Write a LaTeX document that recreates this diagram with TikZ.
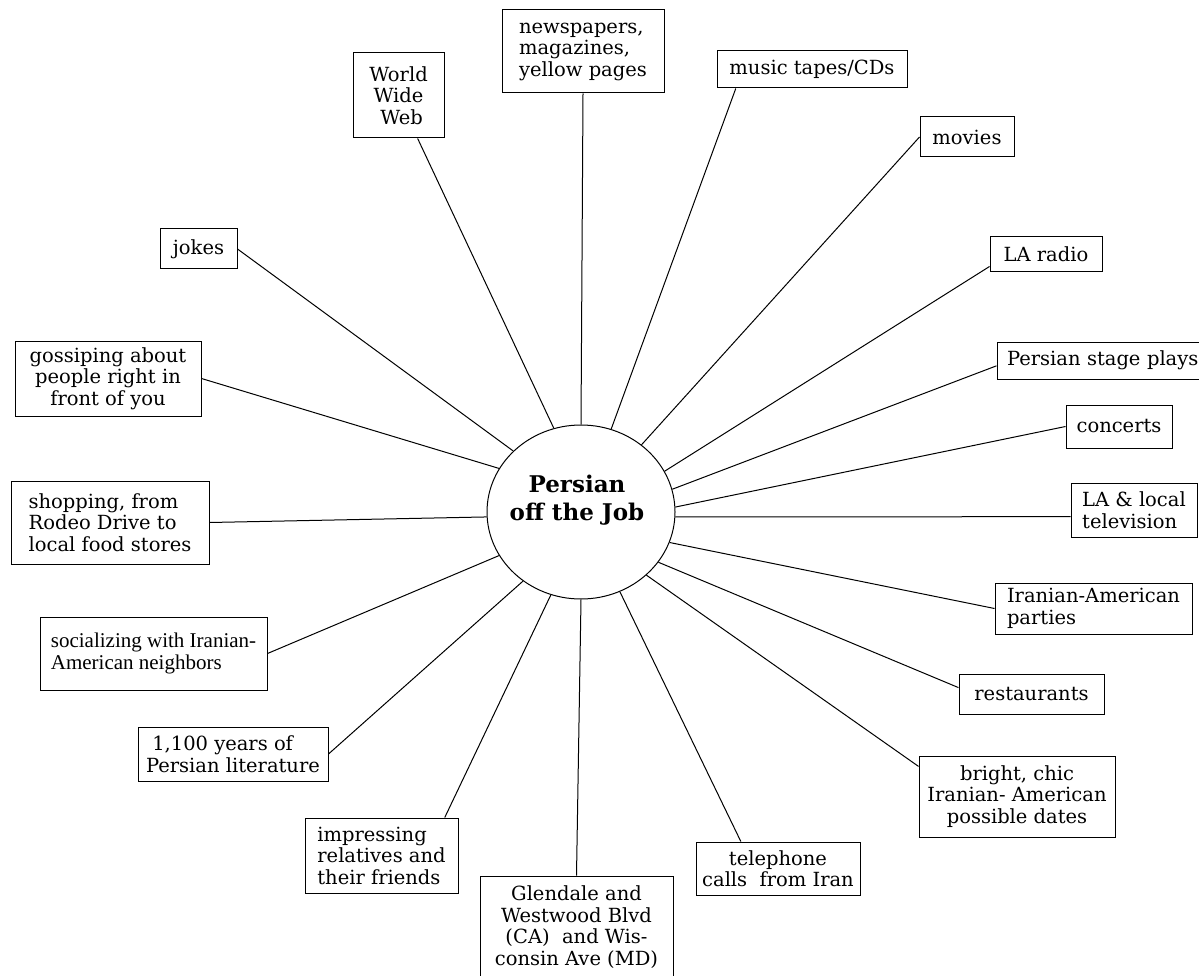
\documentclass[tikz,border=0pt]{standalone}
\usepackage{fontspec}
\setmainfont{DejaVu Serif}
\newfontfamily\timesf{Liberation Serif}
\usetikzlibrary{shapes.geometric}
\tikzset{
  box/.style={draw, line width=1pt, inner sep=0pt, font=\fontsize{19.5}{21.5}\selectfont},
  tbox/.style={draw, line width=1pt, inner sep=0pt, font=\timesf\fontsize{21}{22}\selectfont},
  conn/.style={line width=1pt},
}
\begin{document}
\begin{tikzpicture}[x=1pt,y=-1pt]
\useasboundingbox (0,0) rectangle (1199,976);
% centre
\node[ellipse, draw, line width=1pt, minimum width=188pt, minimum height=174pt, inner sep=0pt] (c) at (581,512) {};
\node[font=\bfseries\fontsize{23}{28}\selectfont, align=center] (title) at (577,500) {Persian\\off the Job};
% boxes
\node[box, align=left, minimum width=162pt, minimum height=83pt] (news) at (583,51.5) {newspapers,\\magazines,\\yellow pages};
\node[box, align=center, minimum width=91pt, minimum height=85pt] (www) at (398.5,95.5) {World\\Wide\\\ Web};
\node[box, minimum width=77pt, minimum height=40pt] (jokes) at (198.5,249) {jokes};
\node[box, minimum width=190pt, minimum height=37pt] (music) at (812,69.5) {music tapes/CDs};
\node[box, minimum width=94pt, minimum height=40pt] (movies) at (967,137) {movies};
\node[box, minimum width=112pt, minimum height=35pt] (radio) at (1046,254.5) {LA radio};
\node[box, align=center, minimum width=186pt, minimum height=75pt] (gossip) at (108,378.5) {gossiping about\\people right in\\front of you};
\node[box, align=left, minimum width=198pt, minimum height=83pt] (shop) at (110,522.5) {shopping, from\\Rodeo Drive to\\local food stores};
\node[tbox, align=left, minimum width=227pt, minimum height=73pt] (social) at (153.5,653.5) {socializing with Iranian-\\American neighbors};
\node[box, minimum width=202pt, minimum height=37pt, text width=194pt, align=left] (stage) at (1098,360.5) {\mbox{\hspace{6pt}Persian stage plays}};
\node[box, minimum width=106pt, minimum height=43pt] (concerts) at (1119,426.5) {concerts};
\node[box, align=left, minimum width=126pt, minimum height=54pt] (tv) at (1134,510) {LA \& local\\television};
\node[box, align=left, minimum width=197pt, minimum height=51pt] (parties) at (1093.5,608.5) {Iranian-American\\parties};
\node[box, minimum width=145pt, minimum height=40pt] (rest) at (1031.5,694) {restaurants};
\node[box, align=center, minimum width=196pt, minimum height=81pt] (bright) at (1017,796.5) {bright, chic\\Iranian- American\\possible dates};
\node[box, align=center, minimum width=164pt, minimum height=53pt] (tel) at (778,868.5) {telephone\\calls\ \ from Iran};
\node[box, align=center, minimum width=193pt, minimum height=102pt] (glen) at (576.5,927) {Glendale and\\Westwood Blvd\\(CA)\ \ and Wis-\\consin Ave (MD)};
\node[box, align=left, minimum width=153pt, minimum height=75pt] (impress) at (381.5,855.5) {impressing\\relatives and\\their friends};
\node[box, align=left, minimum width=190pt, minimum height=54pt] (years) at (233,754) {\ 1,100 years of\\Persian literature};
% connectors
\draw[conn] (jokes.east) -- (c.138.5);
\draw[conn] (www.-66) -- (c.108.2);
\draw[conn] (news.south) -- (c.90.7);
\draw[conn] (music.-166) -- (c.70.2);
\draw[conn] (movies.west) -- (c.48);
\draw[conn] (radio.192.6) -- (c.26.8);
\draw[conn] (stage.183.7) -- (c.14.5);
\draw[conn] (concerts.west) -- (c.3.5);
\draw[conn] (tv.186.3) -- (c.-3.6);
\draw[conn] (parties.west) -- (c.-19.7);
\draw[conn] (rest.175.3) -- (c.-33.5);
\draw[conn] (bright.163.2) -- (c.-44.6);
\draw[conn] (tel.144.4) -- (c.-64.8);
\draw[conn] (glen.north) -- (c.-90);
\draw[conn] (impress.31) -- (c.-110.2);
\draw[conn] (years.east) -- (c.-130.9);
\draw[conn] (social.east) -- (c.-152.6);
\draw[conn] (shop.east) -- (c.183.5);
\draw[conn] (gossip.east) -- (c.152.6);
\end{tikzpicture}
\end{document}
